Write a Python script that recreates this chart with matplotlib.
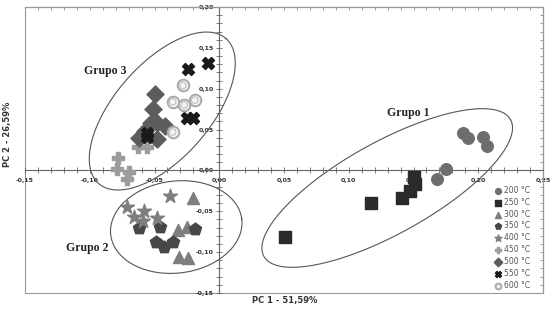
import numpy as np
import matplotlib
matplotlib.use('Agg')
import matplotlib.pyplot as plt
from matplotlib.ticker import MultipleLocator, FuncFormatter, NullFormatter
from matplotlib.patches import Rectangle

# PCA scores, one pair of lists per temperature
x_200 = [0.188, 0.192, 0.204, 0.207, 0.175, 0.168]
y_200 = [0.046, 0.040, 0.041, 0.030, 0.002, -0.011]
x_250 = [0.150, 0.151, 0.147, 0.141, 0.117, 0.051]
y_250 = [-0.008, -0.017, -0.025, -0.034, -0.040, -0.081]
x_300 = [-0.020, -0.025, -0.032, -0.031, -0.024]
y_300 = [-0.034, -0.069, -0.073, -0.106, -0.107]
x_350 = [-0.062, -0.046, -0.019, -0.049, -0.043, -0.036]
y_350 = [-0.070, -0.069, -0.072, -0.088, -0.094, -0.088]
x_400 = [-0.038, -0.071, -0.058, -0.066, -0.059, -0.048]
y_400 = [-0.031, -0.045, -0.050, -0.057, -0.062, -0.058]
x_450 = [-0.078, -0.079, -0.070, -0.071, -0.063, -0.056]
y_450 = [0.015, 0.002, -0.002, -0.011, 0.029, 0.029]
x_500 = [-0.050, -0.051, -0.053, -0.048, -0.042, -0.062, -0.048, -0.057]
y_500 = [0.094, 0.075, 0.058, 0.058, 0.054, 0.040, 0.038, 0.048]
x_550 = [-0.024, -0.009, -0.025, -0.020, -0.056, -0.056]
y_550 = [0.124, 0.131, 0.064, 0.064, 0.046, 0.041]
x_600 = [-0.028, -0.036, -0.027, -0.019, -0.036]
y_600 = [0.104, 0.084, 0.080, 0.086, 0.047]

labels = ['200 °C', '250 °C', '300 °C', '350 °C', '400 °C',
          '450 °C', '500 °C', '550 °C', '600 °C']

x_label = 'PC 1 - 51,59%'
y_label = 'PC 2 - 26,59%'

# group ellipses: centre (data), semi axes (pixels), angle (deg)
groups = [('Grupo 1', (0.1297, -0.0215), 141, 46, 29, (0.146, 0.070)),
          ('Grupo 2', (-0.0332, -0.0693), 66, 46, 7, (-0.102, -0.095)),
          ('Grupo 3', (-0.044, 0.0727), 96.5, 47.5, 48.7, (-0.088, 0.122))]

xmin, xmax = -0.15, 0.25
ymin, ymax = -0.15, 0.20

fig = plt.figure(figsize=(5.5, 3.12), dpi=100)
ax = fig.add_axes([25/550., 19/312., 518/550., 286/312.])
ax.set_xlim(xmin, xmax)
ax.set_ylim(ymin, ymax)

# scatter
ax.scatter(x_200, y_200, s=70, marker='o', color='#6e6e6e', label=labels[0], zorder=3)
ax.scatter(x_250, y_250, s=85, marker='s', color='#2a2a2a', label=labels[1], zorder=3)
ax.scatter(x_300, y_300, s=75, marker='^', color='#7e7e7e', label=labels[2], zorder=3)
ax.scatter(x_350, y_350, s=85, marker='p', color='#474747', label=labels[3], zorder=3)
ax.scatter(x_400, y_400, s=110, marker='*', color='#7e7e7e', label=labels[4], zorder=3)
ax.scatter(x_450, y_450, s=70, marker='P', color='#9c9c9c', label=labels[5], zorder=3)
ax.scatter(x_500, y_500, s=75, marker='D', color='#5c5c5c', label=labels[6], zorder=3)
ax.scatter(x_550, y_550, s=75, marker='X', color='#1a1a1a', label=labels[7], zorder=3)
ax.scatter(x_600, y_600, s=70, marker='o', facecolor='#f4f4f4', edgecolor='#a8a8a8',
           linewidth=1.4, label=labels[8], zorder=3)
ax.scatter(x_600, y_600, s=22, marker='o', facecolor='none', edgecolor='#bdbdbd',
           linewidth=0.8, zorder=4)

# ellipses
sx = 518. / (xmax - xmin)
sy = 286. / (ymax - ymin)
t = np.linspace(0, 2*np.pi, 300)
for name, (cx, cy), a, b, ang, (tx, ty) in groups:
   th = np.radians(ang)
   px = a*np.cos(t)*np.cos(th) - b*np.sin(t)*np.sin(th)
   py = a*np.cos(t)*np.sin(th) + b*np.sin(t)*np.cos(th)
   ax.plot(cx + px/sx, cy + py/sy, color='#555555', lw=0.8, zorder=2)
   ax.text(tx, ty, name, family='Liberation Serif', fontweight='bold', fontsize=8.5,
           ha='center', va='center', color='#222222')

# axes through origin
for s in ['left', 'bottom']:
   ax.spines[s].set_position('zero')
   ax.spines[s].set_color('#666666')
   ax.spines[s].set_linewidth(0.8)
for s in ['top', 'right']:
   ax.spines[s].set_color('#999999')
   ax.spines[s].set_linewidth(0.8)
ax.add_patch(Rectangle((0, 0), 1, 1, transform=ax.transAxes, fill=False,
                       edgecolor='#999999', lw=0.8, clip_on=False, zorder=1))

fmt = FuncFormatter(lambda v, p: ("%.2f" % (0.0 if abs(v) < 1e-9 else v)).replace('.', ','))
for axis in [ax.xaxis, ax.yaxis]:
   axis.set_major_locator(MultipleLocator(0.05))
   axis.set_minor_locator(MultipleLocator(0.01))
   axis.set_major_formatter(fmt)
ax.tick_params(which='both', direction='inout', color='#666666', width=0.6,
               labelsize=4.5, labelcolor='#333333')
ax.tick_params(which='major', length=5)
ax.tick_params(which='minor', length=4)
ax.tick_params(axis='x', pad=3)
ax.tick_params(axis='y', pad=1.5)
for lab in ax.get_xticklabels() + ax.get_yticklabels():
   lab.set_fontweight('bold')

# ticks along top and right frame, no labels
secx = ax.secondary_xaxis('top')
secy = ax.secondary_yaxis('right')
for sec, axis in [(secx, secx.xaxis), (secy, secy.yaxis)]:
   axis.set_major_locator(MultipleLocator(0.05))
   axis.set_minor_locator(MultipleLocator(0.01))
   axis.set_major_formatter(NullFormatter())
   axis.set_minor_formatter(NullFormatter())
   sec.tick_params(which='both', direction='in', length=2.5, width=0.6,
                   color='#888888')
   for sp in sec.spines.values():
      sp.set_color('#999999')
      sp.set_linewidth(0.8)

leg = ax.legend(loc='upper left', bbox_to_anchor=(0.905, 0.375), frameon=False,
                fontsize=5.5, markerscale=0.5, handletextpad=0.3, labelspacing=0.38,
                borderpad=0, handlelength=1.0, borderaxespad=0)
for txt in leg.get_texts():
   txt.set_color('#555555')

fig.text(0.518, 0.038, x_label, ha='center', va='center', fontsize=6,
         fontweight='bold', color='#333333')
fig.text(0.0145, 0.571, y_label, ha='center', va='center', rotation=90,
         fontsize=6, fontweight='bold', color='#333333')

plt.savefig('out.png', dpi=100)
